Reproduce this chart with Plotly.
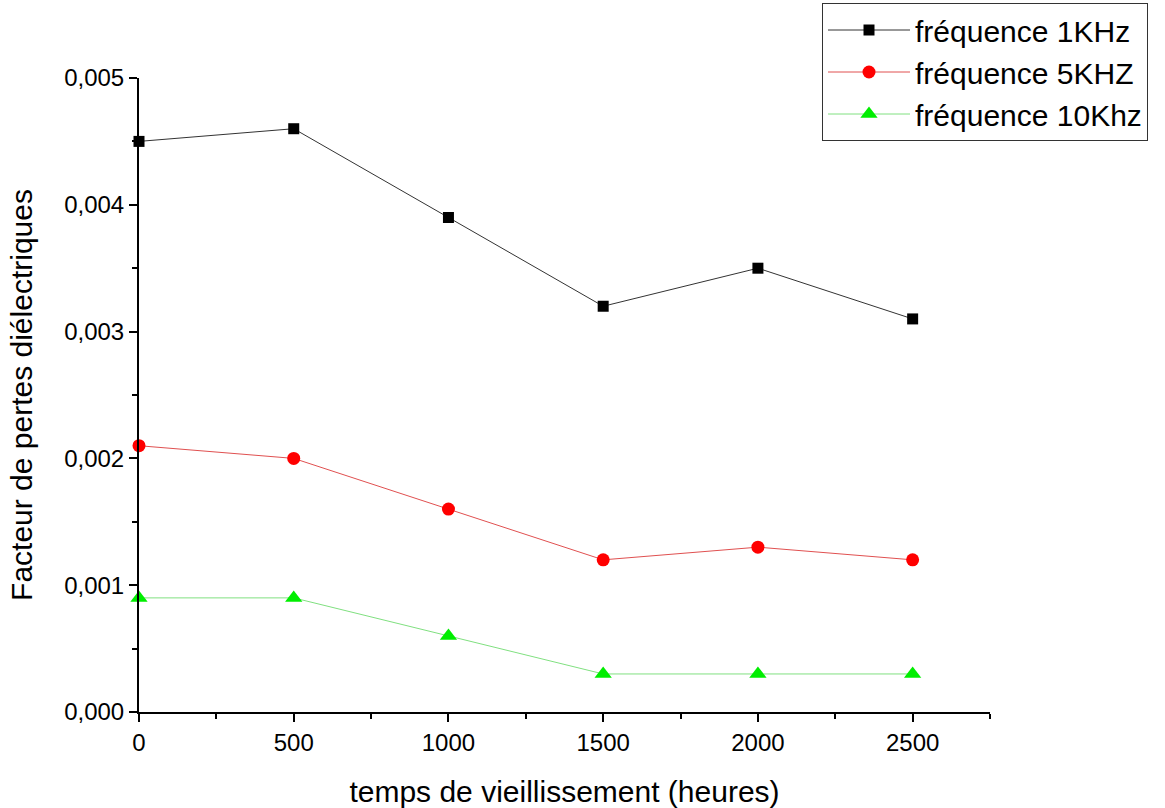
import plotly.graph_objects as go

hours = [0, 500, 1000, 1500, 2000, 2500]
f1k = [0.0045, 0.0046, 0.0039, 0.0032, 0.0035, 0.0031]
f5k = [0.0021, 0.0020, 0.0016, 0.0012, 0.0013, 0.0012]
f10k = [0.0009, 0.0009, 0.0006, 0.0003, 0.0003, 0.0003]
names = ["fréquence 1KHz", "fréquence 5KHZ", "fréquence 10Khz"]

FONT = "Liberation Sans, Arial, sans-serif"

fig = go.Figure()
fig.add_trace(go.Scatter(x=hours, y=f1k, name=names[0], mode="lines+markers",
                         line=dict(color="#333333", width=1),
                         marker=dict(symbol="square", size=11, color="black"),
                         cliponaxis=False))
fig.add_trace(go.Scatter(x=hours, y=f5k, name=names[1], mode="lines+markers",
                         line=dict(color="#e05050", width=1),
                         marker=dict(symbol="circle", size=13, color="red"),
                         cliponaxis=False))
fig.add_trace(go.Scatter(x=hours, y=f10k, name=names[2], mode="lines+markers",
                         line=dict(color="#80e080", width=1),
                         marker=dict(symbol="triangle-up", size=15, color="#00ee00"),
                         cliponaxis=False))

fig.update_layout(
    width=1165, height=808,
    margin=dict(l=139, r=175, t=78, b=96, autoexpand=False),
    paper_bgcolor="white", plot_bgcolor="white",
    separators=", ",
    font=dict(family=FONT, color="black", size=24),
    legend=dict(xref="container", yref="container",
                x=822 / 1165, y=1 - 3 / 808, xanchor="left", yanchor="top",
                bordercolor="#333333", borderwidth=1,
                font=dict(family=FONT, size=30), tracegroupgap=0,
                itemwidth=82),
    showlegend=True,
)
fig.update_xaxes(range=[0, 2750], showline=True, linecolor="black", linewidth=2,
                 ticks="outside", ticklen=8, tickwidth=2, tickcolor="black",
                 tickvals=[0, 500, 1000, 1500, 2000, 2500],
                 showgrid=False, zeroline=False,
                 minor=dict(ticks="outside", ticklen=5, tickwidth=2, tickcolor="black",
                            dtick=250, tick0=0, showgrid=False),
                 tickfont=dict(size=24),
                 title=dict(text="temps de vieillissement (heures)", font=dict(size=30), standoff=26))
fig.update_yaxes(range=[0, 0.005], showline=True, linecolor="black", linewidth=2,
                 ticks="outside", ticklen=8, tickwidth=2, tickcolor="black",
                 dtick=0.001, tick0=0, tickformat=".3f",
                 showgrid=False, zeroline=False,
                 minor=dict(ticks="outside", ticklen=5, tickwidth=2, tickcolor="black",
                            dtick=0.0005, showgrid=False),
                 tickfont=dict(size=24),
                 title=dict(text="Facteur de pertes diélectriques", font=dict(size=30), standoff=23))

fig.write_html("out.html", config={"displayModeBar": False},
               post_script="document.body.style.margin='0';")
